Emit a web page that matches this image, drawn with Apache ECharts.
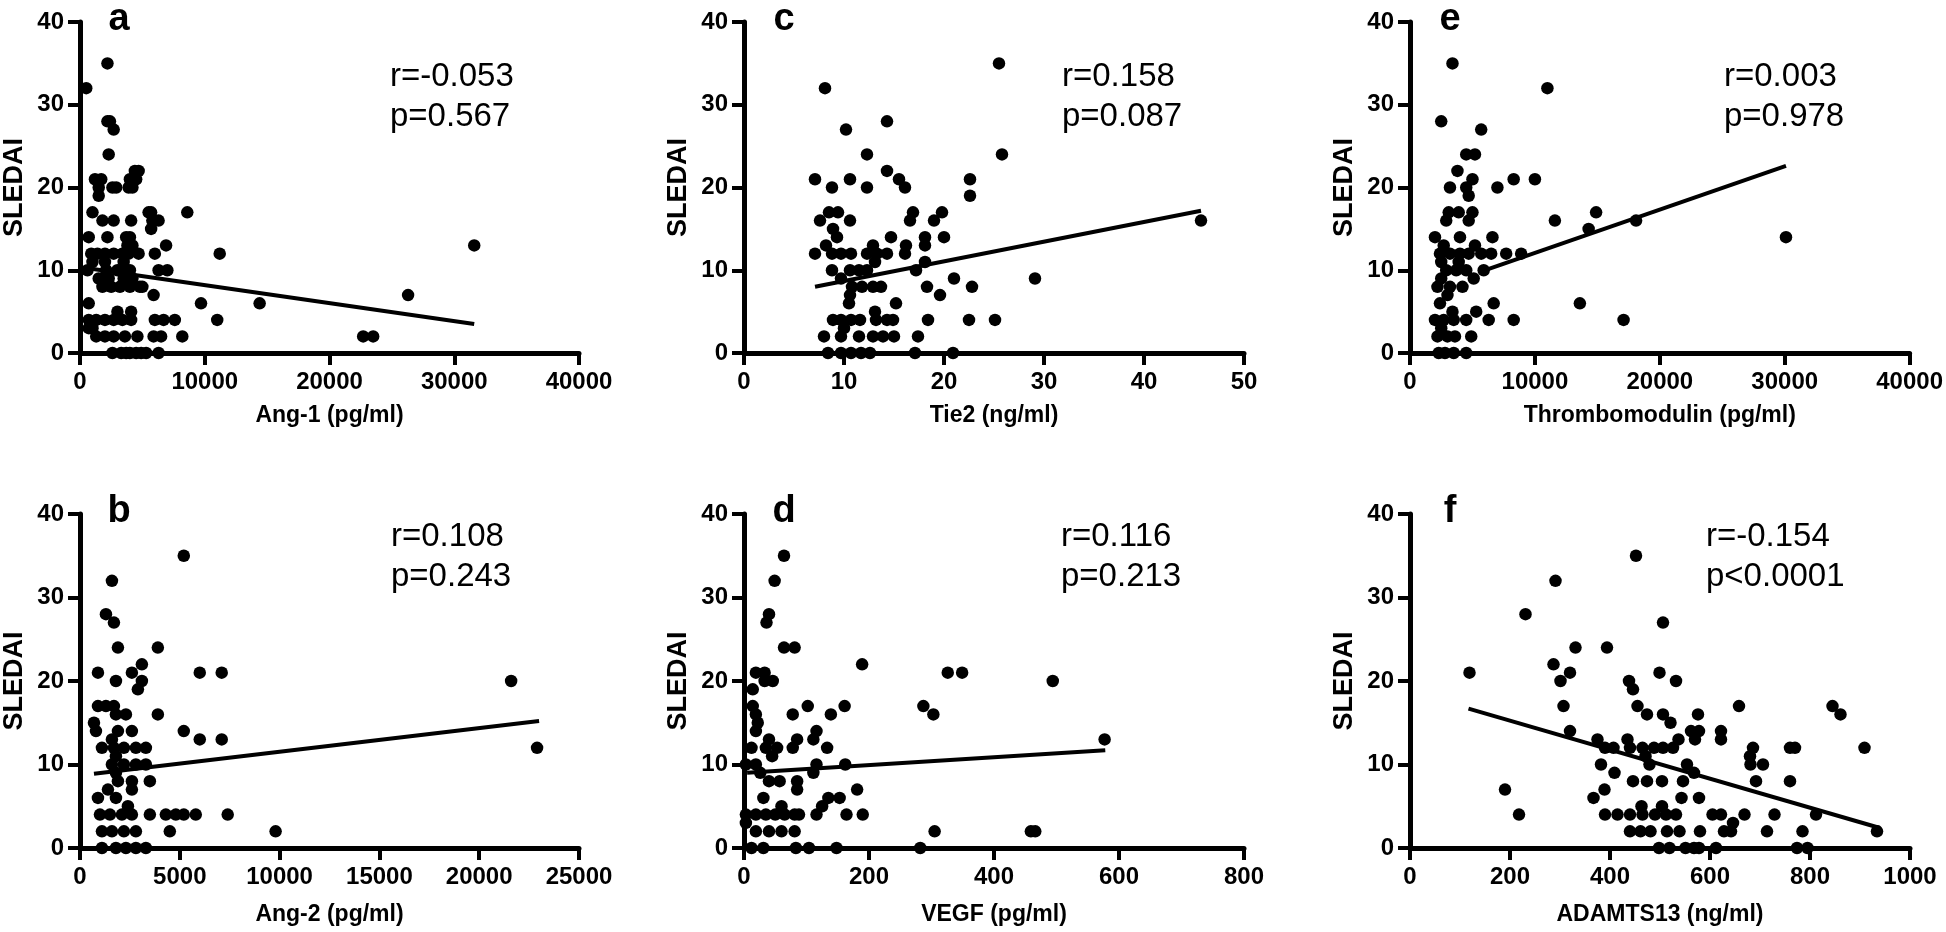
<!DOCTYPE html>
<html>
<head>
<meta charset="utf-8">
<script src="https://cdn.jsdelivr.net/npm/echarts@6/dist/echarts.min.js"></script>
<style>
html,body{margin:0;padding:0;background:#fff;}
#chart{width:1946px;height:932px;}
</style>
</head>
<body>
<div id="chart"></div>
<script>
// ---------- DATA ----------
const panelLetters = ['a', 'b', 'c', 'd', 'e', 'f'];
const xTitles = ['Ang-1 (pg/ml)', 'Ang-2 (pg/ml)', 'Tie2 (ng/ml)', 'VEGF (pg/ml)', 'Thrombomodulin (pg/ml)', 'ADAMTS13 (ng/ml)'];
const yTitle = 'SLEDAI';
const rTexts = ['r=-0.053', 'r=0.108', 'r=0.158', 'r=0.116', 'r=0.003', 'r=-0.154'];
const pTexts = ['p=0.567', 'p=0.243', 'p=0.087', 'p=0.213', 'p=0.978', 'p<0.0001'];
const xMax = [40000, 25000, 50, 800, 40000, 1000];
const xStep = [10000, 5000, 10, 200, 10000, 200];
const yMax = 40, yStep = 10;

const aPts = [[500,32],[2200,35],[2200,28],[2400,28],[2700,27],[2300,24],
[1200,21],[1700,21],[2600,20],[1500,20],[1500,19],[2900,20],[4000,21],[4500,21],[4700,22],[4400,22],[3900,20],[4200,20],
[1000,17],[5500,17],[5700,17],[8600,17],[1800,16],[2700,16],[4100,16],[5800,16],[6300,16],[5700,15],
[700,14],[2200,14],[3700,14],[4000,14],[3800,13],[6900,13],[31600,13],[4200,13],
[11200,12],[900,12],[1400,12],[2000,12],[2700,12],[3400,12],[3900,12],[4700,12],[6000,12],
[1000,11],[2000,11],[3500,11],
[600,10],[2100,10],[3000,10],[3600,10],[4000,10],[6300,10],[7000,10],
[1500,9],[2300,9],[3500,9],[4200,9],
[1800,8],[2500,8],[3200,8],[4000,8],[4800,8],[5000,8],
[5900,7],[26300,7],
[700,6],[9700,6],[14400,6],
[3000,5],[4100,5],
[700,4],[1300,4],[2000,4],[2700,4],[3400,4],[4100,4],[6000,4],[6700,4],[7600,4],[11000,4],
[700,3],[1000,3],
[1300,2],[2000,2],[2700,2],[3600,2],[4600,2],[5900,2],[6500,2],[8200,2],[22700,2],[23500,2],
[2600,0],[3300,0],[4000,0],[4500,0],[5300,0],[6300,0],[3700,0],[4900,0]];
const aFit = [[350,10.3],[31600,3.5]];

const bPts = [[5200,35],[1600,32],[1300,28],[1700,27],[1900,24],[3900,24],[3100,22],
[900,21],[2600,21],[6000,21],[7100,21],[1800,20],[3100,20],[21600,20],[2900,19],
[900,17],[1300,17],[1700,17],[1800,16],[2300,16],[3900,16],[700,15],
[800,14],[1900,14],[2600,14],[5200,14],[1600,13],[6000,13],[7100,13],
[1100,12],[1700,12],[2200,12],[2800,12],[3300,12],[22900,12],[1800,11],
[1600,10],[2200,10],[2800,10],[3300,10],[1800,9],
[1900,8],[2600,8],[3500,8],[1400,7],[2600,7],[900,6],[1800,6],[2400,5],
[1000,4],[1500,4],[2100,4],[2600,4],[3500,4],[4300,4],[4800,4],[5200,4],[5800,4],[7400,4],
[1100,2],[1600,2],[2200,2],[2800,2],[4500,2],[9800,2],
[1100,0],[1800,0],[2300,0],[2800,0],[3300,0]];
const bFit = [[700,8.9],[23000,15.2]];

const cPts = [[8.1,32],[25.5,35],[25.8,24],[10.2,27],[14.3,28],[12.3,24],[14.3,22],
[7.1,21],[10.6,21],[15.5,21],[22.6,21],[22.6,19],[8.8,20],[12.3,20],[16.1,20],
[8.5,17],[9.4,17],[16.9,17],[19.8,17],[7.6,16],[10.6,16],[16.6,16],[19,16],[45.7,16],[8.9,15],
[9.3,14],[14.7,14],[18.1,14],[20,14],[8.2,13],[12.9,13],[16.2,13],[18.1,13],
[7.1,12],[8.8,12],[9.7,12],[10.7,12],[12.3,12],[13.3,12],[14.3,12],[16.1,12],
[13.1,11],[18.1,11],[8.8,10],[10.6,10],[11.5,10],[12.3,10],[17.2,10],
[9.7,9],[21,9],[29.1,9],[10.8,8],[11.8,8],[12.9,8],[13.7,8],[18.3,8],[22.8,8],
[10.6,7],[19.6,7],[10.5,6],[15.2,6],[13.1,5],
[8.9,4],[9.7,4],[10.7,4],[11.6,4],[13.2,4],[14.3,4],[14.9,4],[18.4,4],[22.5,4],[25.1,4],[10,3],
[8,2],[9.7,2],[11.5,2],[12.9,2],[13.9,2],[15,2],[17.4,2],
[8.4,0],[9.7,0],[10.7,0],[11.7,0],[12.6,0],[17.1,0],[20.9,0]];
const cFit = [[7.1,8.0],[45.7,17.2]];

const dPts = [[64,35],[49,32],[40,28],[36,27],[64,24],[81,24],[189,22],
[19,21],[33,21],[326,21],[349,21],[46,20],[33,20],[494,20],[14,19],
[14,17],[102,17],[161,17],[287,17],[19,16],[78,16],[139,16],[303,16],[22,15],
[19,14],[116,14],[40,13],[85,13],[111,13],[577,13],
[12,12],[35,12],[53,12],[78,12],[133,12],[45,11],
[3,10],[19,10],[116,10],[162,10],[26,9],[111,9],
[40,8],[57,8],[85,8],[85,7],[181,7],[31,6],[135,6],[153,6],[60,5],[125,5],
[3,4],[19,4],[35,4],[50,4],[65,4],[81,4],[88,4],[116,4],[164,4],[190,4],[3,3],
[19,2],[40,2],[60,2],[81,2],[305,2],[459,2],[466,2],
[12,0],[31,0],[83,0],[104,0],[148,0],[282,0]];
const dFit = [[5,9.0],[578,11.7]];

const ePts = [[3400,35],[2500,28],[11000,32],[5700,27],[4500,24],[5200,24],[3800,22],
[8300,21],[10000,21],[5000,21],[3200,20],[4500,20],[7000,20],[4700,19],
[3100,17],[3900,17],[5000,17],[14900,17],[2900,16],[4700,16],[11600,16],[18100,16],[14300,15],
[2000,14],[4000,14],[6600,14],[30100,14],[2700,13],[5200,13],
[2400,12],[3200,12],[4000,12],[4700,12],[5700,12],[6500,12],[7700,12],[8900,12],
[2500,11],[3900,11],[2900,10],[3700,10],[4500,10],[5900,10],[2500,9],[5100,9],
[2200,8],[3200,8],[4200,8],[3000,7],[2400,6],[6700,6],[13600,6],[3400,5],[5300,5],
[2000,4],[2700,4],[3500,4],[4500,4],[6300,4],[8300,4],[17100,4],[2500,3],
[2200,2],[3000,2],[3600,2],[4900,2],
[2300,0],[2800,0],[3500,0],[4500,0]];
const eFit = [[6200,10.1],[30100,22.6]];

const fPts = [[452,35],[291,32],[231,28],[506,27],[331,24],[394,24],[287,22],
[119,21],[320,21],[499,21],[301,20],[438,20],[532,20],[446,19],
[307,17],[455,17],[658,17],[845,17],[474,16],[506,16],[576,16],[861,16],[521,15],
[320,14],[562,14],[578,14],[622,14],[375,13],[435,13],[537,13],[570,13],[622,13],
[390,12],[407,12],[440,12],[465,12],[488,12],[506,12],[526,12],[686,12],[760,12],[770,12],[909,12],
[471,11],[680,11],[382,10],[479,10],[554,10],[681,10],[706,10],[409,9],[568,9],
[446,8],[474,8],[504,8],[546,8],[692,8],[760,8],[190,7],[389,7],[367,6],[543,6],[578,6],[463,5],[504,5],
[218,4],[390,4],[415,4],[440,4],[465,4],[490,4],[512,4],[532,4],[605,4],[622,4],[669,4],[729,4],[812,4],[646,3],
[440,2],[461,2],[481,2],[514,2],[539,2],[580,2],[628,2],[642,2],[714,2],[785,2],[934,2],
[498,0],[519,0],[551,0],[568,0],[578,0],[612,0],[774,0],[795,0]];
const fFit = [[117,16.7],[940,2.4]];

const allPts = [aPts, bPts, cPts, dPts, ePts, fPts];
const allFits = [aFit, bFit, cFit, dFit, eFit, fFit];

// ---------- LAYOUT ----------
const FONT = "'Liberation Sans', Arial, Helvetica, sans-serif";
const colLeft = [79, 744, 1410];
const plotW = 500;
const rowTop = [22, 514];
const rowH = [331, 334];

function axLine() { return {show: true, onZero: false, lineStyle: {color: '#000', width: 5, opacity: 1}}; }
function axTick() { return {show: true, inside: false, length: 12, lineStyle: {color: '#000', width: 4, opacity: 1}}; }
function axLabel(m) {
  return {show: true, color: '#000', fontFamily: FONT, fontWeight: 'bold', fontSize: 24, margin: m,
          showMinLabel: true, showMaxLabel: true, formatter: function (v) { return String(v); }};
}

const grids = [], xAxes = [], yAxes = [], series = [], graphics = [];
for (let i = 0; i < 6; i++) {
  const col = Math.floor(i / 2), row = i % 2;
  const left = colLeft[col], top = rowTop[row];
  grids.push({left: left, top: top, width: plotW, height: rowH[row], containLabel: false});
  xAxes.push({
    type: 'value', gridIndex: i, min: 0, max: xMax[i], interval: xStep[i],
    axisLine: axLine(), axisTick: axTick(), splitLine: {show: false}, axisLabel: axLabel(17),
    name: xTitles[i], nameLocation: 'middle', nameGap: row === 0 ? 51 : 55,
    nameTextStyle: {color: '#000', fontFamily: FONT, fontWeight: 'bold', fontSize: 23}
  });
  yAxes.push({
    type: 'value', gridIndex: i, min: 0, max: yMax, interval: yStep,
    axisLine: axLine(), axisTick: axTick(), splitLine: {show: false}, axisLabel: axLabel(16),
    name: yTitle, nameLocation: 'middle', nameGap: 52, nameRotate: 90,
    nameTextStyle: {color: '#000', fontFamily: FONT, fontWeight: 'bold', fontSize: 27}
  });
  series.push({
    type: 'scatter', xAxisIndex: i, yAxisIndex: i, data: allPts[i],
    symbol: 'circle', symbolSize: 12.5, itemStyle: {color: '#000', opacity: 1}, silent: true, z: 3
  });
  series.push({
    type: 'line', xAxisIndex: i, yAxisIndex: i, data: allFits[i],
    symbol: 'none', lineStyle: {color: '#000', width: 4}, silent: true, z: 4
  });
  graphics.push({type: 'text', x: left + 40, y: top - 2, silent: true,
    style: {text: panelLetters[i], fill: '#000', font: 'bold 38px ' + FONT, align: 'center', verticalAlign: 'middle'}});
  const rX = left + [311, 312, 318, 317, 314, 296][i];
  const rY = row === 0 ? top + 55 : top + 23;
  graphics.push({type: 'text', x: rX, y: rY, silent: true,
    style: {text: rTexts[i], fill: '#000', font: '33px ' + FONT, align: 'left', verticalAlign: 'middle'}});
  graphics.push({type: 'text', x: rX, y: rY + 40, silent: true,
    style: {text: pTexts[i], fill: '#000', font: '33px ' + FONT, align: 'left', verticalAlign: 'middle'}});
}

const chart = echarts.init(document.getElementById('chart'), null, {renderer: 'canvas'});
chart.setOption({
  backgroundColor: '#fff',
  animation: false,
  grid: grids,
  xAxis: xAxes,
  yAxis: yAxes,
  series: series,
  graphic: graphics
});
</script>
</body>
</html>
